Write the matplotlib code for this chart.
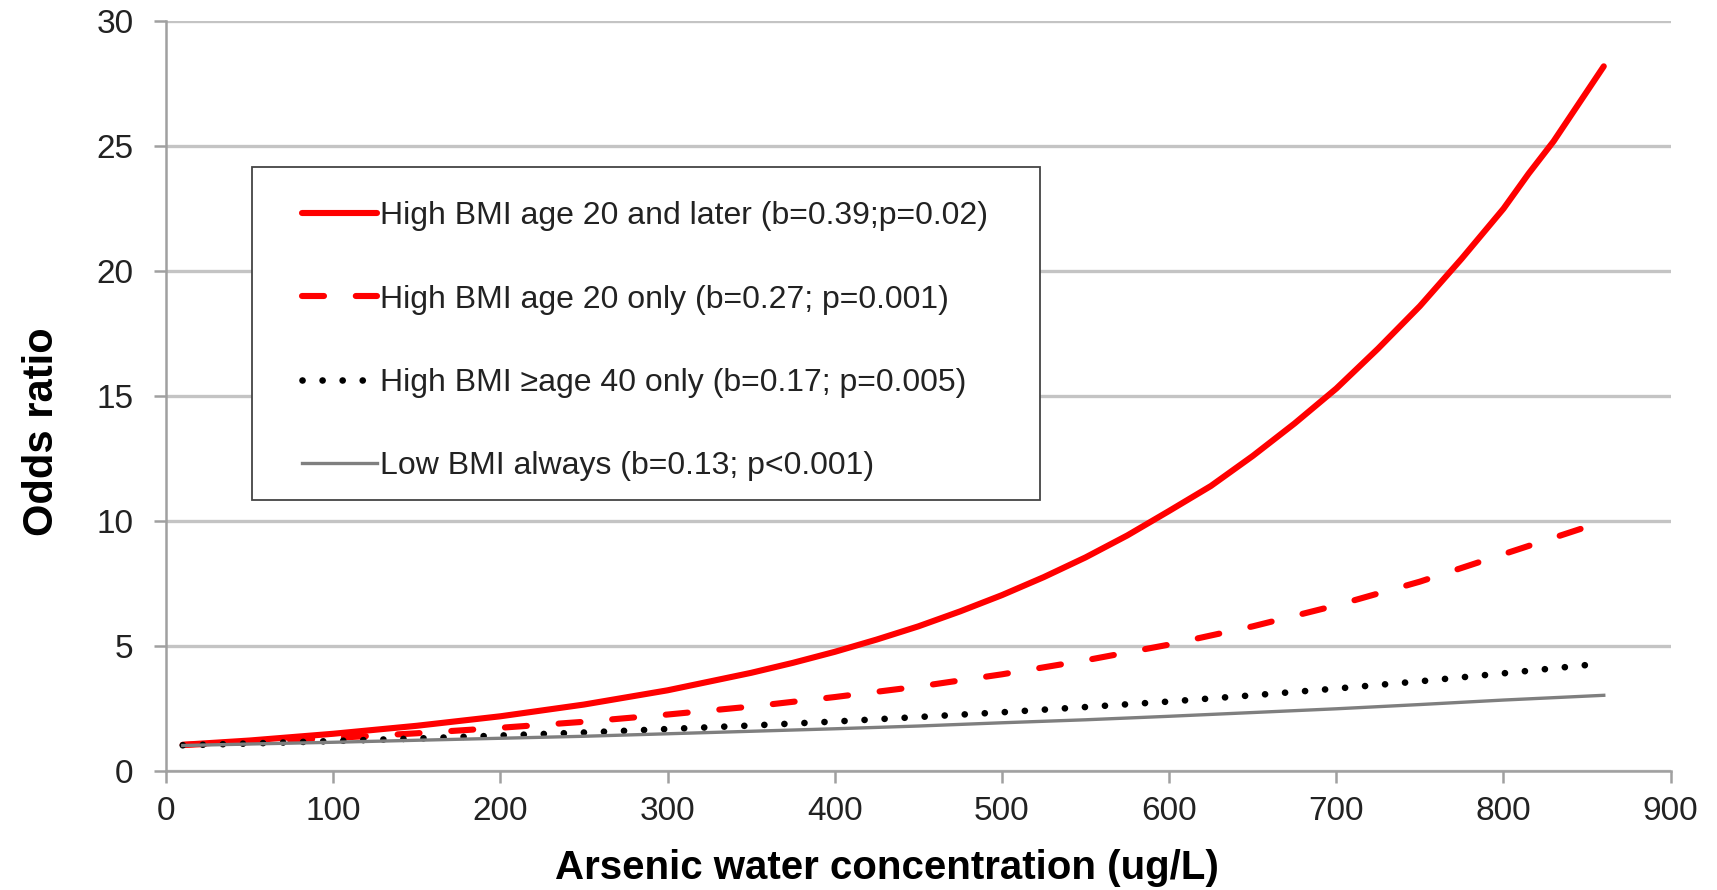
"""
Odds ratio vs arsenic water concentration, by BMI history.
"""

import matplotlib.pyplot as plt
from matplotlib.patches import Rectangle

plt.rcParams['font.family'] = ['Liberation Sans', 'DejaVu Sans']

# values
x_later = [10, 50, 100, 150, 200, 250, 300, 350, 375, 400, 425, 450, 475,
           500, 525, 550, 575, 600, 625, 650, 675, 700, 725, 750, 775, 800,
           815, 830, 845, 860]
or_later = [1.04, 1.21, 1.48, 1.80, 2.18, 2.65, 3.22, 3.92, 4.32, 4.76, 5.25,
            5.78, 6.38, 7.03, 7.75, 8.54, 9.42, 10.4, 11.4, 12.6, 13.9, 15.3,
            16.9, 18.6, 20.5, 22.5, 23.9, 25.2, 26.7, 28.2]

x_age20 = [10, 50, 100, 150, 200, 250, 300, 350, 400, 450, 500, 550, 600,
           650, 700, 750, 800, 847]
or_age20 = [1.03, 1.15, 1.31, 1.50, 1.72, 1.96, 2.25, 2.57, 2.95, 3.37, 3.86,
            4.42, 5.05, 5.78, 6.62, 7.57, 8.67, 9.7]

x_age40 = [10, 50, 100, 150, 200, 250, 300, 350, 400, 450, 500, 550, 600,
           650, 700, 750, 800, 860]
or_age40 = [1.02, 1.09, 1.19, 1.29, 1.41, 1.53, 1.67, 1.81, 1.97, 2.15, 2.34,
            2.55, 2.77, 3.02, 3.29, 3.58, 3.90, 4.3]

x_low = [10, 50, 100, 150, 200, 250, 300, 350, 400, 450, 500, 550, 600,
         650, 700, 750, 800, 860]
or_low = [1.01, 1.07, 1.14, 1.22, 1.30, 1.38, 1.48, 1.58, 1.68, 1.79, 1.92,
          2.04, 2.18, 2.33, 2.48, 2.65, 2.83, 3.02]

labels = ["High BMI age 20 and later (b=0.39;p=0.02)",
          "High BMI age 20 only (b=0.27; p=0.001)",
          "High BMI \u2265age 40 only (b=0.17; p=0.005)",
          "Low BMI always (b=0.13; p<0.001)"]

fig = plt.figure(figsize=(17.17, 8.9), dpi=100)
ax = fig.add_axes([0.0967, 0.134, 0.8763, 0.842])

ax.plot(x_later, or_later, color="#ff0000", lw=4.4, label=labels[0],
        solid_capstyle="round")
ax.plot(x_age20, or_age20, color="#ff0000", lw=4.4, label=labels[1],
        dashes=(3.6, 5.2), dash_capstyle="round")
ax.plot(x_age40, or_age40, color="black", lw=4.8, label=labels[2],
        linestyle=(0, (0.01, 3.0)), dash_capstyle="round")
ax.plot(x_low, or_low, color="#7f7f7f", lw=2.4, label=labels[3])

ax.set_xlim(0, 900)
ax.set_ylim(0, 30)
ax.set_xticks(range(0, 901, 100))
ax.set_yticks(range(0, 31, 5))
ax.yaxis.grid(True, color="#c4c4c4", lw=2.4)
ax.set_axisbelow(True)
for s in ["top", "right"]:
    ax.spines[s].set_visible(False)
for s in ["left", "bottom"]:
    ax.spines[s].set_color("#a0a0a0")
    ax.spines[s].set_linewidth(1.8)
ax.tick_params(axis="both", colors="#a0a0a0", width=1.8, length=8.5,
               labelsize=24, labelcolor="#222222")
ax.tick_params(axis="x", pad=10)
ax.tick_params(axis="y", pad=15)

ax.set_xlabel("Arsenic water concentration (ug/L)", fontsize=29,
              fontweight="bold")
ax.xaxis.label.set_va("baseline")
ax.xaxis.set_label_coords(0.479, -0.144)
ax.set_ylabel("Odds ratio", fontsize=30, fontweight="bold")
ax.yaxis.set_label_coords(-0.069, 0.452)

# legend box (frame drawn separately so the padding matches)
ax.add_patch(Rectangle((0.0571, 0.3613), 0.5236, 0.444,
                       transform=ax.transAxes, facecolor="white",
                       edgecolor="#444444", lw=1.3, zorder=4))
leg = ax.legend(loc="upper left", bbox_to_anchor=(0.0904, 0.760),
                fontsize=23, frameon=False,
                handlelength=2.35, handletextpad=0.1, labelspacing=1.67,
                borderpad=0, borderaxespad=0)
leg.set_zorder(5)
for t in leg.get_texts():
    t.set_color("#222222")

fig.savefig("out.png", dpi=100)
